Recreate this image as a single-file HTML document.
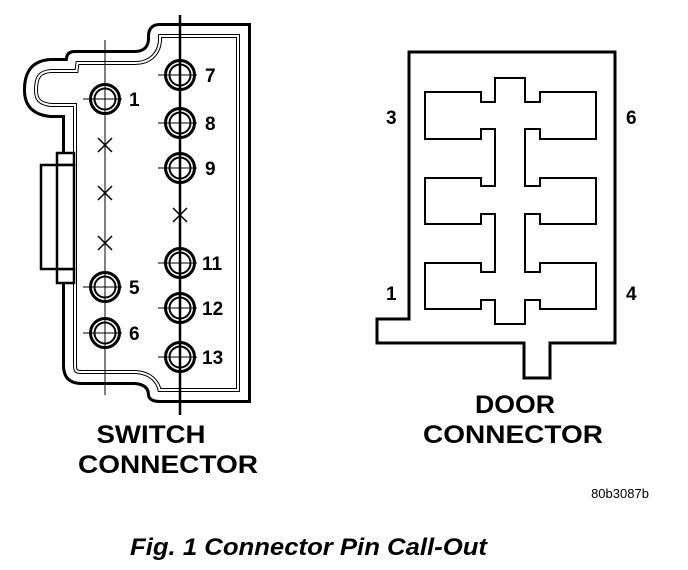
<!DOCTYPE html>
<html><head><meta charset="utf-8"><style>
html,body{margin:0;padding:0;background:#fff;}
svg{display:block;}
text{font-family:"Liberation Sans",Arial,sans-serif;font-weight:bold;fill:#000;}
</style></head><body>
<svg width="688" height="570" viewBox="0 0 688 570" xmlns="http://www.w3.org/2000/svg">
<defs>
<path id="outer" d="M251,23 L160,23 Q148,23 147,35 L147,40 Q146,50 135,50 L75,50 Q66,50 65,58 L50,58 Q23,60 23,90 Q23,115 50,118 L62,118 L62,365 Q62,385 82,385 L135,385 Q147,386 147,395 Q148,403 160,403 L251,403 Z"/>
<clipPath id="cp"><use href="#outer"/></clipPath>
</defs>
<g clip-path="url(#cp)" fill="none">
<use href="#outer" stroke="#000" stroke-width="30"/>
<use href="#outer" stroke="#fff" stroke-width="28"/>
<use href="#outer" stroke="#000" stroke-width="24"/>
<use href="#outer" stroke="#fff" stroke-width="22"/>
<use href="#outer" stroke="#000" stroke-width="6"/>
</g>
<g stroke="#000" stroke-width="2.5" fill="#fff">
<rect x="57" y="153" width="17" height="12"/>
<rect x="57" y="269" width="17" height="14"/>
<rect x="41" y="165" width="33" height="104"/>
<line x1="57" y1="165" x2="57" y2="269"/>
</g>
<line x1="105" y1="40" x2="105" y2="395" stroke="#000" stroke-width="1"/>
<line x1="180" y1="15" x2="180" y2="415" stroke="#000" stroke-width="2.5"/>
<g stroke="#000" fill="none">
<g transform="translate(105,99)"><line x1="-22" y1="0" x2="17" y2="0" stroke-width="1"/><circle r="14.5" stroke-width="3"/><circle r="10.5" stroke-width="2"/></g>
<g transform="translate(105,287)"><line x1="-22" y1="0" x2="17" y2="0" stroke-width="1"/><circle r="14.5" stroke-width="3"/><circle r="10.5" stroke-width="2"/></g>
<g transform="translate(105,333)"><line x1="-22" y1="0" x2="17" y2="0" stroke-width="1"/><circle r="14.5" stroke-width="3"/><circle r="10.5" stroke-width="2"/></g>
<g transform="translate(180,75)"><line x1="-22" y1="0" x2="17" y2="0" stroke-width="1"/><circle r="14.5" stroke-width="3"/><circle r="10.5" stroke-width="2"/></g>
<g transform="translate(180,123)"><line x1="-22" y1="0" x2="17" y2="0" stroke-width="1"/><circle r="14.5" stroke-width="3"/><circle r="10.5" stroke-width="2"/></g>
<g transform="translate(180,168)"><line x1="-22" y1="0" x2="17" y2="0" stroke-width="1"/><circle r="14.5" stroke-width="3"/><circle r="10.5" stroke-width="2"/></g>
<g transform="translate(180,263)"><line x1="-22" y1="0" x2="17" y2="0" stroke-width="1"/><circle r="14.5" stroke-width="3"/><circle r="10.5" stroke-width="2"/></g>
<g transform="translate(180,308)"><line x1="-22" y1="0" x2="17" y2="0" stroke-width="1"/><circle r="14.5" stroke-width="3"/><circle r="10.5" stroke-width="2"/></g>
<g transform="translate(180,357)"><line x1="-22" y1="0" x2="17" y2="0" stroke-width="1"/><circle r="14.5" stroke-width="3"/><circle r="10.5" stroke-width="2"/></g>
<g stroke-width="1.5">
<path d="M98,138 L112,152 M112,138 L98,152"/>
<path d="M98,186 L112,200 M112,186 L98,200"/>
<path d="M98,236 L112,250 M112,236 L98,250"/>
<path d="M173,208 L187,222 M187,208 L173,222"/>
</g>
</g>
<g font-size="19">
<text x="129" y="106">1</text>
<text x="129" y="294">5</text>
<text x="129" y="340">6</text>
<text x="205" y="82">7</text>
<text x="205" y="130">8</text>
<text x="205" y="175">9</text>
<text x="202" y="270">11</text>
<text x="202" y="315">12</text>
<text x="202" y="364">13</text>
</g>
<path d="M409,52 L615,52 L615,343 L550,343 L550,378 L524,378 L524,343 L377,343 L377,319 L409,319 Z" fill="none" stroke="#000" stroke-width="3"/>
<path d="M425,92 L481,92 L481,102 L495,102 L495,78 L525,78 L525,102 L540,102 L540,92 L596,92 L596,139 L540,139 L540,129 L525,129 L525,186 L540,186 L540,178 L596,178 L596,224 L540,224 L540,214 L525,214 L525,272 L540,272 L540,263 L596,263 L596,309 L540,309 L540,300 L525,300 L525,324 L495,324 L495,300 L481,300 L481,309 L425,309 L425,263 L481,263 L481,272 L495,272 L495,214 L481,214 L481,224 L425,224 L425,178 L481,178 L481,186 L495,186 L495,129 L481,129 L481,139 L425,139 Z" fill="none" stroke="#000" stroke-width="2"/>
<g font-size="19">
<text x="386" y="124">3</text>
<text x="626" y="124">6</text>
<text x="386" y="300">1</text>
<text x="626" y="300">4</text>
</g>
<g font-size="25" text-anchor="middle">
<text x="151" y="443" textLength="109" lengthAdjust="spacingAndGlyphs">SWITCH</text>
<text x="168" y="473" textLength="180" lengthAdjust="spacingAndGlyphs">CONNECTOR</text>
<text x="515" y="413" textLength="80" lengthAdjust="spacingAndGlyphs">DOOR</text>
<text x="513" y="443" textLength="180" lengthAdjust="spacingAndGlyphs">CONNECTOR</text>
</g>
<text x="620" y="498" font-size="13" text-anchor="middle" style="font-weight:normal">80b3087b</text>
<text x="130" y="555" font-size="24" font-style="italic" textLength="357" lengthAdjust="spacingAndGlyphs">Fig. 1 Connector Pin Call-Out</text>
</svg>
</body></html>
